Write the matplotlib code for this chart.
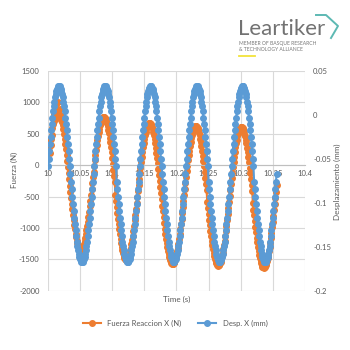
import numpy as np
import matplotlib
matplotlib.use("Agg")
import matplotlib.pyplot as plt
from matplotlib.lines import Line2D
from matplotlib.ticker import FuncFormatter, MultipleLocator

plt.rcParams["font.family"] = ["Lato", "DejaVu Sans"]
plt.rcParams["axes.unicode_minus"] = False

# sampling clock of the test rig
t_start = 10.0
dt = 0.001

# reaction force X (N), one value per sample
fuerza = [
    360, 230, 290, 200, 330, 420, 480, 600, 650, 820, 700, 900, 760, 980, 850,
    1000, 880, 780, 900, 800, 720, 790, 690,
    637, 570, 498, 421, 338, 251, 160, 66, -29, -127, -225, -323, -421, -516,
    -610, -701, -788, -871, -948, -1020, -1087, -1146, -1199, -1244, -1282,
    -1312, -1333, -1346, -1350,
    -1346, -1334, -1314, -1286, -1250, -1208, -1158, -1101, -1039, -971, -897,
    -819, -737, -651, -563, -472, -380, -288, -195, -103, -13, 76, 162, 244,
    322, 396, 464, 526, 583, 633, 675, 711, 739, 759, 771, 775,
    770, 758, 736, 706, 668, 622, 568, 508, 440, 367, 288, 204, 116, 23, -72,
    -169, -268, -467, -566, -663, -758, -851, -939, -1023, -1102, -1175, -1243,
    -1303, -1357, -1403, -1441, -1471, -1493, -1506, -1510,
    -1506, -1494, -1473, -1444, -1407, -1363, -1312, -1254, -1189, -1119, -1044,
    -963, -878, -789, -699, -606, -510, -415, -320, -224, -131, -41, 48, 133,
    214, 289, 359, 424, 482, 533, 577, 614, 643, 664, 676, 680,
    676, 663, 642, 613, 574, 529, 476, 417, 350, 278, 201, 118, 31, -60, -154,
    -249, -347, -445, -543, -641, -736, -830, -921, -1008, -1091, -1168, -1240,
    -1307, -1366, -1419, -1464, -1503, -1532, -1553, -1566, -1570,
    -1566, -1554, -1533, -1505, -1467, -1423, -1371, -1313, -1248, -1178, -1102,
    -1021, -937, -848, -757, -663, -568, -472, -377, -282, -188, -97, -8, 76,
    157, 233, 303, 368, 426, 477, 521, 559, 587, 608, 620, 625,
    620, 608, 587, 558, 520, 476, 423, 364, 299, 227, 151, 69, -17, -107, -199,
    -294, -391, -585, -681, -776, -867, -958, -1044, -1126, -1203, -1274, -1340,
    -1399, -1451, -1495, -1533, -1562, -1583, -1596, -1600,
    -1596, -1583, -1562, -1534, -1496, -1452, -1400, -1341, -1276, -1206, -1129,
    -1048, -962, -873, -781, -687, -591, -495, -399, -303, -209, -117, -28, 58,
    139, 215, 286, 351, 410, 462, 506, 544, 572, 593, 606, 610,
    606, 593, 572, 543, 505, 460, 407, 348, 282, 210, 133, 50, -36, -127, -220,
    -315, -413, -607, -705, -800, -893, -984, -1070, -1153, -1230, -1302, -1368,
    -1427, -1480, -1525, -1563, -1592, -1613, -1626, -1630,
    -1626, -1613, -1592, -1563, -1525, -1481, -1428, -1369, -1303, -1232, -1155,
    -1073, -987, -896, -804, -709, -612, -515, -418, -321,
]

# displacement X (mm), one value per sample
desp = [
    -0.058, -0.050, -0.041, -0.033, -0.025, -0.017, -0.010, -0.003, 0.004,
    0.010, 0.015, 0.020, 0.024, 0.027, 0.030, 0.031, 0.033,
    0.033,
    0.033, 0.031, 0.030, 0.027, 0.024, 0.020, 0.015, 0.010, 0.004, -0.003,
    -0.010, -0.017, -0.025, -0.033, -0.041, -0.050, -0.058, -0.067, -0.076,
    -0.084, -0.093, -0.101, -0.109, -0.117, -0.124, -0.131, -0.138, -0.144,
    -0.149, -0.154, -0.158, -0.161, -0.164, -0.165, -0.167, -0.167,
    -0.167, -0.165, -0.164, -0.161, -0.158, -0.154, -0.149, -0.144, -0.138,
    -0.131, -0.124, -0.117, -0.109, -0.101, -0.093, -0.084, -0.076, -0.067,
    -0.058, -0.050, -0.041, -0.033, -0.025, -0.017, -0.010, -0.003, 0.004,
    0.010, 0.015, 0.020, 0.024, 0.027, 0.030, 0.031, 0.033, 0.033,
    0.033, 0.031, 0.030, 0.027, 0.024, 0.020, 0.015, 0.010, 0.004, -0.003,
    -0.010, -0.017, -0.025, -0.033, -0.041, -0.050, -0.058, -0.076, -0.084,
    -0.093, -0.101, -0.109, -0.117, -0.124, -0.131, -0.138, -0.144, -0.149,
    -0.154, -0.158, -0.161, -0.164, -0.165, -0.167, -0.167,
    -0.167, -0.165, -0.164, -0.161, -0.158, -0.154, -0.149, -0.144, -0.138,
    -0.131, -0.124, -0.117, -0.109, -0.101, -0.093, -0.084, -0.076, -0.067,
    -0.058, -0.050, -0.041, -0.033, -0.025, -0.017, -0.010, -0.003, 0.004,
    0.010, 0.015, 0.020, 0.024, 0.027, 0.030, 0.031, 0.033, 0.033,
    0.033, 0.031, 0.030, 0.027, 0.024, 0.020, 0.015, 0.010, 0.004, -0.003,
    -0.010, -0.017, -0.025, -0.033, -0.041, -0.050, -0.058, -0.067, -0.076,
    -0.084, -0.093, -0.101, -0.109, -0.117, -0.124, -0.131, -0.138, -0.144,
    -0.149, -0.154, -0.158, -0.161, -0.164, -0.165, -0.167, -0.167,
    -0.167, -0.165, -0.164, -0.161, -0.158, -0.154, -0.149, -0.144, -0.138,
    -0.131, -0.124, -0.117, -0.109, -0.101, -0.093, -0.084, -0.076, -0.067,
    -0.058, -0.050, -0.041, -0.033, -0.025, -0.017, -0.010, -0.003, 0.004,
    0.010, 0.015, 0.020, 0.024, 0.027, 0.030, 0.031, 0.033, 0.033,
    0.033, 0.031, 0.030, 0.027, 0.024, 0.020, 0.015, 0.010, 0.004, -0.003,
    -0.010, -0.017, -0.025, -0.033, -0.041, -0.050, -0.058, -0.076, -0.084,
    -0.093, -0.101, -0.109, -0.117, -0.124, -0.131, -0.138, -0.144, -0.149,
    -0.154, -0.158, -0.161, -0.164, -0.165, -0.167, -0.167,
    -0.167, -0.165, -0.164, -0.161, -0.158, -0.154, -0.149, -0.144, -0.138,
    -0.131, -0.124, -0.117, -0.109, -0.101, -0.093, -0.084, -0.076, -0.067,
    -0.058, -0.050, -0.041, -0.033, -0.025, -0.017, -0.010, -0.003, 0.004,
    0.010, 0.015, 0.020, 0.024, 0.027, 0.030, 0.031, 0.033, 0.033,
    0.033, 0.031, 0.030, 0.027, 0.024, 0.020, 0.015, 0.010, 0.004, -0.003,
    -0.010, -0.017, -0.025, -0.033, -0.041, -0.050, -0.058, -0.076, -0.084,
    -0.093, -0.101, -0.109, -0.117, -0.124, -0.131, -0.138, -0.144, -0.149,
    -0.154, -0.158, -0.161, -0.164, -0.165, -0.167, -0.167,
    -0.167, -0.165, -0.164, -0.161, -0.158, -0.154, -0.149, -0.144, -0.138,
    -0.131, -0.124, -0.117, -0.109, -0.101, -0.093, -0.084, -0.076, -0.067,
]

t_fuerza = t_start + dt * np.arange(len(fuerza))
t_desp = t_start + dt * np.arange(len(desp))

ORANGE = "#ED7D31"
BLUE = "#5B9BD5"
GRID = "#D9D9D9"
TXT = "#595959"

fig = plt.figure(figsize=(3.5, 3.5), dpi=100)
ax = fig.add_axes([0.137, 0.169, 0.734, 0.628])
ax2 = ax.twinx()

l1, = ax.plot(t_fuerza, fuerza, color=ORANGE, lw=1.5, marker="o", ms=4.0,
              mec=ORANGE, label="Fuerza Reaccion X (N)")
l2, = ax2.plot(t_desp, desp, color=BLUE, lw=1.5, marker="o", ms=4.0,
               mec=BLUE, label="Desp. X (mm)")

ax.set_xlim(10.0, 10.4)
ax.set_ylim(-2000, 1500)
ax2.set_ylim(-0.2, 0.05)
ax.xaxis.set_major_locator(MultipleLocator(0.05))
ax.yaxis.set_major_locator(MultipleLocator(500))
ax2.yaxis.set_major_locator(MultipleLocator(0.05))
ax.xaxis.set_major_formatter(FuncFormatter(lambda v, p: f"{round(v, 2):g}"))
ax2.yaxis.set_major_formatter(FuncFormatter(lambda v, p: f"{round(v, 2):g}"))

ax.grid(True, color=GRID, lw=0.8)
ax.set_axisbelow(True)
for a in (ax, ax2):
    for s in ("top", "left", "right", "bottom"):
        a.spines[s].set_visible(False)
ax.spines["bottom"].set_visible(True)
ax.spines["bottom"].set_position(("data", 0))
ax.spines["bottom"].set_color("#BFBFBF")
ax.spines["bottom"].set_linewidth(0.8)

ax.tick_params(axis="x", length=0, pad=3.5, labelsize=5.5, labelcolor=TXT)
ax.tick_params(axis="y", length=0, pad=6, labelsize=5.5, labelcolor=TXT)
ax2.tick_params(axis="y", length=0, pad=6, labelsize=5.5, labelcolor=TXT)

fig.text(14 / 350, 1 - 170 / 350, "Fuerza (N)", rotation=90, ha="center",
         va="center", fontsize=5.8, color=TXT)
fig.text(337 / 350, 1 - 182 / 350, "Desplazamiento (mm)", rotation=90,
         ha="center", va="center", fontsize=5.8, color=TXT)
fig.text(176.5 / 350, 1 - 299 / 350, "Time (s)", ha="center", va="center",
         fontsize=5.8, color=TXT)

fig.legend(handles=[l1, l2], loc="center", bbox_to_anchor=(0.5, 1 - 323 / 350),
           ncol=2, frameon=False, fontsize=5.5, handlelength=2.4,
           columnspacing=2.2, labelcolor=TXT)

# company logo, top right
fig.text(238 / 350, 1 - 35 / 350, "Leartiker", ha="left", va="baseline",
         fontsize=16, color="#727272")
fig.add_artist(Line2D([316 / 350, 326 / 350, 338 / 350, 331 / 350],
                      [1 - 15 / 350, 1 - 15 / 350, 1 - 26 / 350, 1 - 38 / 350],
                      color="#5DB9B3", lw=1.4, transform=fig.transFigure))
fig.text(239 / 350, 1 - 43.7 / 350, "MEMBER OF BASQUE RESEARCH", ha="left",
         va="center", fontsize=3.6, color="#777777")
fig.text(239 / 350, 1 - 49.3 / 350, "& TECHNOLOGY ALLIANCE", ha="left",
         va="center", fontsize=3.6, color="#777777")
fig.add_artist(Line2D([239 / 350, 255 / 350], [1 - 55.7 / 350, 1 - 55.7 / 350],
                      color="#F2E33A", lw=1.3, transform=fig.transFigure))

fig.savefig("out.png", dpi=100)
